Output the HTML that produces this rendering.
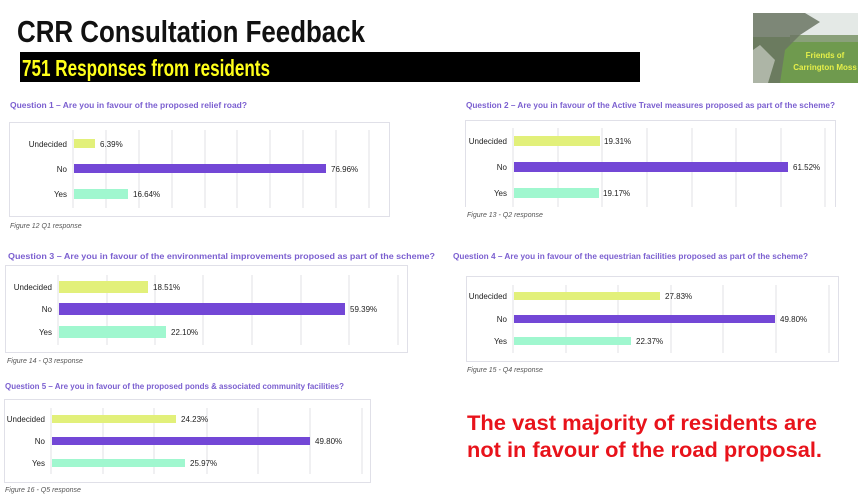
<!DOCTYPE html>
<html><head><meta charset="utf-8"><style>
html,body{margin:0;padding:0;background:#fff;}
svg{display:block;font-family:"Liberation Sans",Arial,sans-serif;}
.t{fill:#7b5fd0;font-weight:bold;font-size:8px;}
.c{fill:#555;font-style:italic;font-size:7px;}
.l{fill:#222;font-size:8px;text-anchor:end;}
.v{fill:#222;font-size:8px;}
.g{stroke:#e0e0e4;stroke-width:1;}
.b{fill:none;stroke:#e0e0e8;stroke-width:1;}
</style></head><body>
<svg width="860" height="498" viewBox="0 0 860 498">
<text x="17" y="42" font-size="31" font-weight="bold" fill="#111" textLength="348" lengthAdjust="spacingAndGlyphs">CRR Consultation Feedback</text>
<rect x="20" y="52" width="620" height="30" fill="#000"/>
<text x="22" y="76" font-size="23" font-weight="bold" fill="#ffff1a" textLength="248" lengthAdjust="spacingAndGlyphs">751 Responses from residents</text>
<!-- logo -->
<rect x="753" y="13" width="105" height="70" fill="#6f9a4e"/>
<rect x="753" y="13" width="105" height="24" fill="#e4e9e6"/>
<rect x="790" y="35" width="68" height="7" fill="#8aa07a"/>
<path d="M753 13 L805 13 L820 22 L800 35 L785 50 L780 83 L753 83 Z" fill="#6b7563" opacity="0.85"/>
<path d="M760 45 L775 60 L768 83 L753 83 L753 50 Z" fill="#c9cfc4" opacity="0.7"/>
<text x="825" y="58" font-size="8" font-weight="bold" fill="#e6f04a" text-anchor="middle">Friends of</text>
<text x="825" y="70" font-size="8" font-weight="bold" fill="#e6f04a" text-anchor="middle">Carrington Moss</text>

<!-- Chart 1 -->
<text class="t" x="10" y="108" textLength="237" lengthAdjust="spacingAndGlyphs">Question 1 – Are you in favour of the proposed relief road?</text>
<rect class="b" x="9.5" y="122.5" width="380" height="94"/>
<g class="g"><line x1="73" y1="130" x2="73" y2="208"/><line x1="106" y1="130" x2="106" y2="208"/><line x1="139" y1="130" x2="139" y2="208"/><line x1="172" y1="130" x2="172" y2="208"/><line x1="205" y1="130" x2="205" y2="208"/><line x1="237" y1="130" x2="237" y2="208"/><line x1="270" y1="130" x2="270" y2="208"/><line x1="303" y1="130" x2="303" y2="208"/><line x1="336" y1="130" x2="336" y2="208"/><line x1="369" y1="130" x2="369" y2="208"/></g>
<rect x="74" y="139" width="21" height="9" fill="#e2f07a"/>
<rect x="74" y="164" width="252" height="9" fill="#7347d6"/>
<rect x="74" y="189" width="54" height="10" fill="#a0f7cf"/>
<text class="l" x="67" y="147">Undecided</text><text class="l" x="67" y="172">No</text><text class="l" x="67" y="197">Yes</text>
<text class="v" x="100" y="147">6.39%</text><text class="v" x="331" y="172">76.96%</text><text class="v" x="133" y="197">16.64%</text>
<text class="c" x="10" y="228">Figure 12 Q1 response</text>

<!-- Chart 2 -->
<text class="t" x="466" y="108" textLength="369" lengthAdjust="spacingAndGlyphs">Question 2 – Are you in favour of the Active Travel measures proposed as part of the scheme?</text>
<path class="b" d="M465.5 207 V120.5 H835.5 V207"/>
<g class="g"><line x1="513" y1="128" x2="513" y2="207"/><line x1="558" y1="128" x2="558" y2="207"/><line x1="602" y1="128" x2="602" y2="207"/><line x1="647" y1="128" x2="647" y2="207"/><line x1="692" y1="128" x2="692" y2="207"/><line x1="736" y1="128" x2="736" y2="207"/><line x1="781" y1="128" x2="781" y2="207"/><line x1="825" y1="128" x2="825" y2="207"/></g>
<rect x="514" y="136" width="86" height="10" fill="#e2f07a"/>
<rect x="514" y="162" width="274" height="10" fill="#7347d6"/>
<rect x="514" y="188" width="85" height="10" fill="#a0f7cf"/>
<text class="l" x="507" y="144">Undecided</text><text class="l" x="507" y="170">No</text><text class="l" x="507" y="196">Yes</text>
<text class="v" x="604" y="144">19.31%</text><text class="v" x="793" y="170">61.52%</text><text class="v" x="603" y="196">19.17%</text>
<text class="c" x="467" y="217">Figure 13 - Q2 response</text>

<!-- Chart 3 -->
<text class="t" x="8" y="259" font-size="9" textLength="427" lengthAdjust="spacingAndGlyphs">Question 3 – Are you in favour of the environmental improvements proposed as part of the scheme?</text>
<rect class="b" x="5.5" y="265.5" width="402" height="87"/>
<g class="g"><line x1="58" y1="275" x2="58" y2="345"/><line x1="107" y1="275" x2="107" y2="345"/><line x1="155" y1="275" x2="155" y2="345"/><line x1="203" y1="275" x2="203" y2="345"/><line x1="252" y1="275" x2="252" y2="345"/><line x1="301" y1="275" x2="301" y2="345"/><line x1="349" y1="275" x2="349" y2="345"/><line x1="398" y1="275" x2="398" y2="345"/></g>
<rect x="59" y="281" width="89" height="12" fill="#e2f07a"/>
<rect x="59" y="303" width="286" height="12" fill="#7347d6"/>
<rect x="59" y="326" width="107" height="12" fill="#a0f7cf"/>
<text class="l" x="52" y="290" font-size="8.5">Undecided</text><text class="l" x="52" y="312" font-size="8.5">No</text><text class="l" x="52" y="335" font-size="8.5">Yes</text>
<text class="v" x="153" y="290" font-size="8.5">18.51%</text><text class="v" x="350" y="312" font-size="8.5">59.39%</text><text class="v" x="171" y="335" font-size="8.5">22.10%</text>
<text class="c" x="7" y="363">Figure 14 - Q3 response</text>

<!-- Chart 4 -->
<text class="t" x="453" y="259" textLength="355" lengthAdjust="spacingAndGlyphs">Question 4 – Are you in favour of the equestrian facilities proposed as part of the scheme?</text>
<rect class="b" x="466.5" y="276.5" width="372" height="85"/>
<g class="g"><line x1="513" y1="285" x2="513" y2="353"/><line x1="566" y1="285" x2="566" y2="353"/><line x1="618" y1="285" x2="618" y2="353"/><line x1="671" y1="285" x2="671" y2="353"/><line x1="723" y1="285" x2="723" y2="353"/><line x1="776" y1="285" x2="776" y2="353"/><line x1="829" y1="285" x2="829" y2="353"/></g>
<rect x="514" y="292" width="146" height="8" fill="#e2f07a"/>
<rect x="514" y="315" width="261" height="8" fill="#7347d6"/>
<rect x="514" y="337" width="117" height="8" fill="#a0f7cf"/>
<text class="l" x="507" y="299">Undecided</text><text class="l" x="507" y="322">No</text><text class="l" x="507" y="344">Yes</text>
<text class="v" x="665" y="299">27.83%</text><text class="v" x="780" y="322">49.80%</text><text class="v" x="636" y="344">22.37%</text>
<text class="c" x="467" y="372">Figure 15 - Q4 response</text>

<!-- Chart 5 -->
<text class="t" x="5" y="389" textLength="339" lengthAdjust="spacingAndGlyphs">Question 5 – Are you in favour of the proposed ponds &amp; associated community facilities?</text>
<rect class="b" x="4.5" y="399.5" width="366" height="83"/>
<g class="g"><line x1="51" y1="408" x2="51" y2="474"/><line x1="103" y1="408" x2="103" y2="474"/><line x1="154" y1="408" x2="154" y2="474"/><line x1="207" y1="408" x2="207" y2="474"/><line x1="258" y1="408" x2="258" y2="474"/><line x1="310" y1="408" x2="310" y2="474"/><line x1="362" y1="408" x2="362" y2="474"/></g>
<rect x="52" y="415" width="124" height="8" fill="#e2f07a"/>
<rect x="52" y="437" width="258" height="8" fill="#7347d6"/>
<rect x="52" y="459" width="133" height="8" fill="#a0f7cf"/>
<text class="l" x="45" y="422">Undecided</text><text class="l" x="45" y="444">No</text><text class="l" x="45" y="466">Yes</text>
<text class="v" x="181" y="422">24.23%</text><text class="v" x="315" y="444">49.80%</text><text class="v" x="190" y="466">25.97%</text>
<text class="c" x="5" y="492">Figure 16 - Q5 response</text>

<text x="467" y="430" font-size="21" font-weight="bold" fill="#e8131b" textLength="350" lengthAdjust="spacingAndGlyphs">The vast majority of residents are</text>
<text x="467" y="457" font-size="21" font-weight="bold" fill="#e8131b" textLength="355" lengthAdjust="spacingAndGlyphs">not in favour of the road proposal.</text>
</svg>
</body></html>
